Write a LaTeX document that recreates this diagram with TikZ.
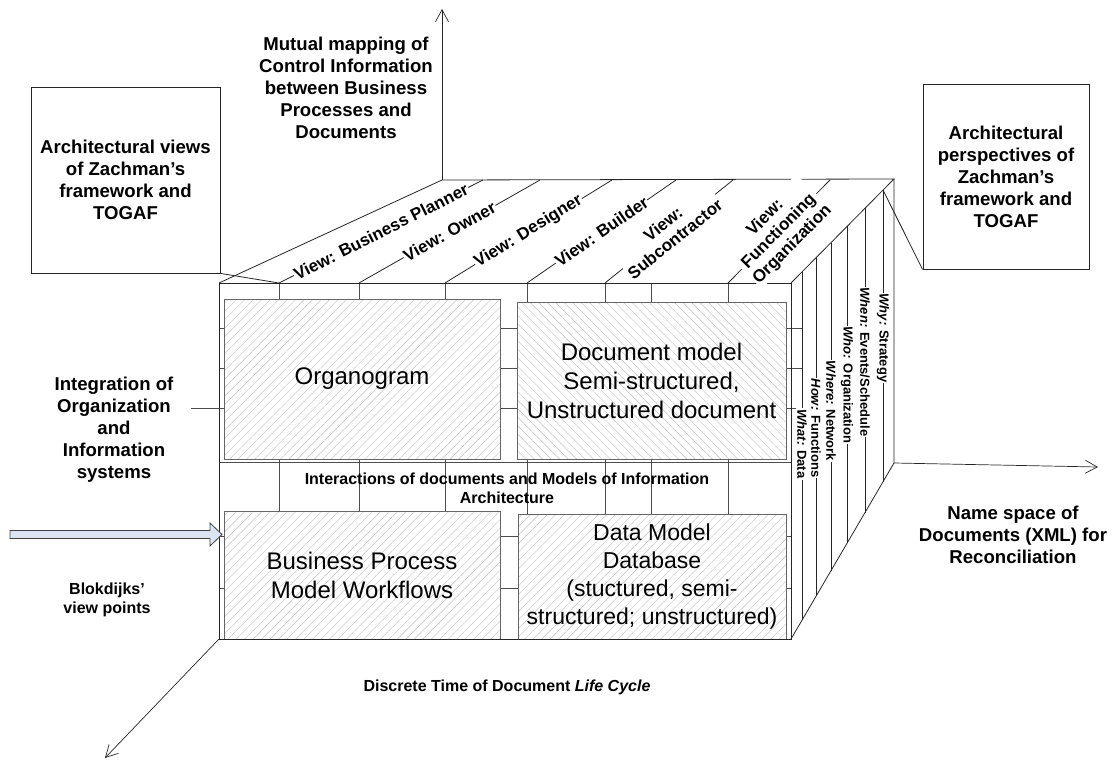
\documentclass[tikz,border=0pt]{standalone}
\usepackage{fontspec}
\setmainfont{Liberation Sans}
\usetikzlibrary{arrows.meta,calc,patterns.meta}
\definecolor{arrowblue}{RGB}{220,230,242}
\tikzstyle{cubeline} =[draw=black!85, line width=0.8pt]
\tikzstyle{gridline} =[draw=black!70, line width=0.7pt]
\tikzstyle{axisarrow}=[draw=black!85, line width=0.7pt,
                       -{Straight Barb[length=12pt,width=13pt]}]
\tikzstyle{hatch}    =[draw=black!60, line width=0.8pt, preaction={fill=white},
                       pattern color=black!25, inner sep=0pt, align=center,
                       font=\fontsize{24}{29}\selectfont]
\tikzstyle{hatchNE}  =[hatch, pattern={Lines[angle=45,distance=6pt,line width=0.4pt]}]
\tikzstyle{hatchNW}  =[hatch, pattern={Lines[angle=-45,distance=6pt,line width=0.4pt]}]
\tikzstyle{callout}  =[draw=black!85, line width=0.8pt, align=center,
                       inner sep=2pt, font=\bfseries\fontsize{18.6}{22}\selectfont]
\tikzstyle{biglbl}   =[align=center, font=\bfseries\fontsize{18.6}{22}\selectfont]
\tikzstyle{smalllbl} =[align=center, font=\bfseries\fontsize{16}{19}\selectfont]
\tikzstyle{viewlbl}  =[fill=white, inner sep=1pt, align=center,
                       font=\bfseries\fontsize{17}{19}\selectfont]
\tikzstyle{perslbl}  =[fill=white, inner sep=1pt, rotate=-90,
                       font=\bfseries\fontsize{13}{15}\selectfont]
\tikzstyle{blockarrow}=[draw=black!75, line width=0.8pt, fill=arrowblue]
\begin{document}
\begin{tikzpicture}[x=1pt, y=-1pt]
    \useasboundingbox (0,0) rectangle (1112,765);

    \coordinate (ftl) at (219,283);
    \coordinate (ftr) at (791,283);
    \coordinate (fbr) at (791,639);
    \coordinate (fbl) at (219,639);
    \coordinate (btl) at (442,180);
    \coordinate (btr) at (894,179);
    \coordinate (bbr) at (894,463);

    \foreach \x in {279,359,445,527,605,651,728} \draw[gridline] (\x,283) -- (\x,639);
    \foreach \y in {328,368,408} \draw[gridline] (219,\y) -- (802,\y);
    \foreach \y in {462,536,588} \draw[gridline] (219,\y) -- (791,\y);

    \node[hatchNE, minimum width=276, minimum height=160] (org) at (362,379) {Organogram};
    \node[hatchNW, minimum width=269, minimum height=157] (doc) at (651.5,380.5)
        {Document model\\Semi-structured,\\Unstructured document};
    \node[hatchNE, minimum width=276, minimum height=128] (bpm) at (362,575)
        {Business Process\\Model Workflows};
    \node[hatchNE, minimum width=268, minimum height=125,
          font=\fontsize{23}{27.8}\selectfont] (dat) at (652,576.5)
        {Data Model\\Database\\(stuctured, semi-\\structured; unstructured)};

    \node[smalllbl] (inter) at (507,488.5)
        {Interactions of documents and Models of Information\\Architecture};

    \draw[cubeline] (ftl) -- (ftr) -- (fbr) -- (fbl) -- cycle;
    \draw[cubeline] (ftl) -- (btl) -- (btr) -- (ftr);
    \draw[cubeline] (btr) -- (bbr) -- (fbr);

    \foreach \f/\b/\t [count=\i] in {279/483/{View: Business Planner}, 359/540/{View: Owner},
            445/612/{View: Designer}, 527/676/{View: Builder}, 605/733/{View:\\Subcontractor},
            728/830/{View:\\Functioning\\Organization}}
        \draw[cubeline] (\f,283) coordinate (v\i) -- node[viewlbl, sloped] (vl\i) {\t} (\b,180);

    \foreach \x/\ly/\t [count=\i] in {802/444/{\textit{What:} Data}, 816/428/{\textit{How:} Functions},
            831/411/{\textit{Where:} Network}, 847/385/{\textit{Who:} Organization},
            865/362/{\textit{When:} Events/Schedule}, 883/338/{\textit{Why:} Strategy}}{
        \draw[cubeline] ($(ftr)!{(\x-791)/103}!(btr)$) coordinate (p\i)
            -- ($(fbr)!{(\x-791)/103}!(bbr)$);
        \node[perslbl] (pl\i) at (\x,\ly) {\t};
    }

    \node[callout, minimum width=189, minimum height=186] (lview) at (125.5,180)
        {Architectural views\\of Zachman's\\framework and\\TOGAF};
    \draw[cubeline] (lview.south east) -- (v1);
    \node[callout, minimum width=166, minimum height=185] (rview) at (1006,176.5)
        {Architectural\\perspectives of\\Zachman's\\framework and\\TOGAF};
    \draw[cubeline] (rview.south west) -- (p6);

    \node[biglbl] (mutual) at (346,88)
        {Mutual mapping of\\Control Information\\between Business\\Processes and\\Documents};
    \node[biglbl] (integ) at (114,430)
        {Integration of\\Organization\\and\\Information\\systems};
    \coordinate (intg) at (191,408);
    \draw[gridline] (intg) -- (org.west |- intg);
    \node[smalllbl] (blok) at (107,600) {Blokdijks'\\view points};
    \node[biglbl] (names) at (1013,535)
        {Name space of\\Documents (XML) for\\Reconciliation};
    \node[smalllbl] (life) at (507,687) {Discrete Time of Document \textit{Life Cycle}};

    \coordinate (upend) at (442,9);
    \coordinate (rightend) at (1098,467);
    \coordinate (downend) at (105,758);
    \draw[axisarrow] (btl) -- (upend);
    \draw[axisarrow] (bbr) -- (rightend);
    \draw[axisarrow] (fbl) -- (downend);

    \coordinate (blktip) at (222,534.5);
    \draw[blockarrow] (blktip) -- ++(-12,-11.5) -- ++(0,7.5) -- ++(-200,0)
        -- ++(0,8) -- ++(200,0) -- ++(0,7.5) -- cycle;
\end{tikzpicture}
\end{document}
